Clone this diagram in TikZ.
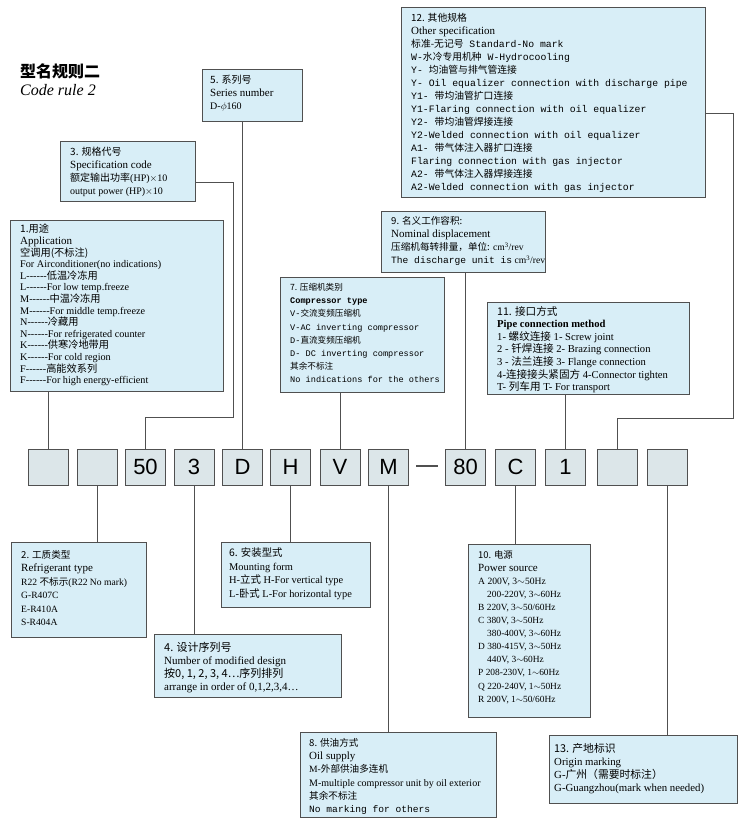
\documentclass[tikz,border=0pt]{standalone}
\usepackage{fontspec}
\setmainfont{Liberation Serif}[Ligatures=TeXOff]
\setsansfont{Liberation Sans}
\setmonofont{Liberation Mono}
\newfontfamily\cjk{Noto Sans CJK SC}
\newcommand\zh[1]{{\cjk #1}}
\usetikzlibrary{positioning}

\definecolor{boxblue}{HTML}{D8EEF7}
\definecolor{codegray}{HTML}{DCE6E9}
\definecolor{edge}{HTML}{505050}

\begin{document}
\begin{tikzpicture}[x=1pt,y=-1pt,
    infobox/.style={draw=edge,fill=boxblue,line width=1pt,anchor=north west,inner sep=0pt},
    txt/.style={anchor=north west,align=left,inner sep=0pt,font=\fontsize{10.2}{11.6}\selectfont},
    code/.style={draw=edge,fill=codegray,line width=1pt,minimum width=40pt,minimum height=36pt,
                 inner sep=0pt,font=\sffamily\fontsize{22}{22}\selectfont},
    link/.style={draw=edge,line width=1pt}]

  \useasboundingbox (0,0) rectangle (750,827);

  % title
  \node[txt,font=\cjk\bfseries\fontsize{16}{16}\selectfont] (title) at (20,64) {型名规则二};
  \node[txt,font=\itshape\fontsize{16}{16}\selectfont] (subtitle) at (20,84) {Code rule 2};

  % upper boxes
  \node[infobox,minimum width=213pt,minimum height=171pt] (b1) at (10,220) {};
  \node[txt] (t1) at ([xshift=10pt,yshift=-4pt]b1.north west)
    {\zh{1.用途}\\ \fontsize{11}{11.6}\selectfont Application\\ \zh{空调用(不标注)}\\
     For Airconditioner(no indications)\\ L------\zh{低温冷冻用}\\ L------For low temp.freeze\\
     M------\zh{中温冷冻用}\\ M------For middle temp.freeze\\ N------\zh{冷藏用}\\
     N------For refrigerated counter\\ K------\zh{供寒冷地带用}\\ K------For cold region\\
     F------\zh{高能效系列}\\ F------For high energy-efficient};

  \node[infobox,minimum width=135pt,minimum height=60pt] (b3) at (60,141) {};
  \node[txt,font=\fontsize{10}{13}\selectfont] (t3) at ([xshift=10pt,yshift=-6pt]b3.north west)
    {\zh{3. 规格代号}\\ \fontsize{11}{13}\selectfont Specification code\\
     \zh{额定输出功率}(HP)$\times$10\\ output power (HP)$\times$10};

  \node[infobox,minimum width=100pt,minimum height=52pt] (b5) at (202,69) {};
  \node[txt,font=\fontsize{10}{13}\selectfont] (t5) at ([xshift=8pt,yshift=-6pt]b5.north west)
    {\zh{5. 系列号}\\ \fontsize{11}{13}\selectfont Series number\\ D-$\phi$160};

  \node[infobox,minimum width=164pt,minimum height=115pt] (b7) at (280,277) {};
  \node[txt,font=\ttfamily\fontsize{8.6}{13.2}\selectfont] (t7) at ([xshift=10pt,yshift=-6pt]b7.north west)
    {\zh{7. 压缩机类别}\\ \textbf{Compressor type}\\ V-\zh{交流变频压缩机}\\ V-AC inverting compressor\\
     D-\zh{直流变频压缩机}\\ D- DC inverting compressor\\ \zh{其余不标注}\\ No indications for the others};

  \node[infobox,minimum width=164pt,minimum height=61pt] (b9) at (381,211) {};
  \node[txt,font=\fontsize{9.6}{13.2}\selectfont] (t9) at ([xshift=10pt,yshift=-5pt]b9.north west)
    {\zh{9. 名义工作容积:}\\ \fontsize{11}{13.2}\selectfont Nominal displacement\\
     \zh{压缩机每转排量，单位:} cm\textsuperscript{3}/rev\\ {\ttfamily The discharge unit is} cm\textsuperscript{3}/rev};

  \node[infobox,minimum width=304pt,minimum height=190pt] (b12) at (401,7) {};
  \node[txt,font=\ttfamily\fontsize{9.8}{13}\selectfont] (t12) at ([xshift=10pt,yshift=-6pt]b12.north west)
    {\zh{12. 其他规格}\\ {\rmfamily\fontsize{11}{13}\selectfont Other specification}\\
     \zh{标准-无记号} Standard-No mark\\ W-\zh{水冷专用机种} W-Hydrocooling\\
     Y- \zh{均油管与排气管连接}\\ Y- Oil equalizer connection with discharge pipe\\
     Y1- \zh{带均油管扩口连接}\\ Y1-Flaring connection with oil equalizer\\
     Y2- \zh{带均油管焊接连接}\\ Y2-Welded connection with oil equalizer\\
     A1- \zh{带气体注入器扩口连接}\\ Flaring connection with gas injector\\
     A2- \zh{带气体注入器焊接连接}\\ A2-Welded connection with gas injector};

  \node[infobox,minimum width=202pt,minimum height=92pt] (b11) at (487,302) {};
  \node[txt,font=\fontsize{10.6}{12.6}\selectfont] (t11) at ([xshift=10pt,yshift=-4pt]b11.north west)
    {\zh{11. 接口方式}\\ \textbf{Pipe connection method}\\ 1- \zh{螺纹连接} 1- Screw joint\\
     2 - \zh{钎焊连接} 2- Brazing connection\\ 3 - \zh{法兰连接} 3- Flange connection\\
     4-\zh{连接接头紧固方} 4-Connector tighten\\ T- \zh{列车用} T- For transport};

  % code row
  \node[code] (k1)  at (48,467)    {};
  \node[code] (k2)  at (97,467)    {};
  \node[code] (k3)  at (145.5,467) {50};
  \node[code] (k4)  at (194,467)   {3};
  \node[code] (k5)  at (242.5,467) {D};
  \node[code] (k6)  at (290.5,467) {H};
  \node[code] (k7)  at (340,467)   {V};
  \node[code] (k8)  at (388.5,467) {M};
  \node[inner sep=0pt] (dash) at (427,466) {\color{edge}\rule{22pt}{1.3pt}};
  \node[code] (k9)  at (465.5,467) {80};
  \node[code] (k10) at (515.5,467) {C};
  \node[code] (k11) at (565.5,467) {1};
  \node[code] (k12) at (617.5,467) {};
  \node[code] (k13) at (667.5,467) {};

  % lower boxes
  \node[infobox,minimum width=135pt,minimum height=95pt] (b2) at (11,542) {};
  \node[txt,font=\fontsize{9.6}{13.5}\selectfont] (t2) at ([xshift=10pt,yshift=-8pt]b2.north west)
    {\zh{2. 工质类型}\\ \fontsize{11}{13.5}\selectfont Refrigerant type\\ R22 \zh{不标示}(R22 No mark)\\
     G-R407C\\ E-R410A\\ S-R404A};

  \node[infobox,minimum width=187pt,minimum height=63pt] (b4) at (154,634) {};
  \node[txt,font=\fontsize{11}{13}\selectfont] (t4) at ([xshift=10pt,yshift=-8pt]b4.north west)
    {\zh{4. 设计序列号}\\ Number of modified design\\ \zh{按0, 1, 2, 3, 4…序列排列}\\ arrange in order of 0,1,2,3,4…};

  \node[infobox,minimum width=149pt,minimum height=65pt] (b6) at (221,542) {};
  \node[txt,font=\fontsize{10.4}{13.5}\selectfont] (t6) at ([xshift=8pt,yshift=-6pt]b6.north west)
    {\zh{6. 安装型式}\\ Mounting form\\ H-\zh{立式} H-For vertical type\\ L-\zh{卧式} L-For horizontal type};

  \node[infobox,minimum width=196pt,minimum height=85pt] (b8) at (300,732) {};
  \node[txt,font=\fontsize{9.6}{13.3}\selectfont] (t8) at ([xshift=9pt,yshift=-6pt]b8.north west)
    {\zh{8. 供油方式}\\ \fontsize{11}{13.3}\selectfont Oil supply\\ M-\zh{外部供油多连机}\\
     {\fontsize{10}{13.3}\selectfont M-multiple compressor unit by oil exterior}\\ \zh{其余不标注}\\ {\ttfamily No marking for others}};

  \node[infobox,minimum width=122pt,minimum height=173pt] (b10) at (468,544) {};
  \node[txt,font=\fontsize{9.4}{13.1}\selectfont] (t10) at ([xshift=10pt,yshift=-6pt]b10.north west)
    {\zh{10. 电源}\\ \fontsize{11}{13.1}\selectfont Power source\\ \fontsize{9.6}{13.1}\selectfont A 200V, 3$\sim$50Hz\\
     \hspace{9pt}200-220V, 3$\sim$60Hz\\ B 220V, 3$\sim$50/60Hz\\ C 380V, 3$\sim$50Hz\\
     \hspace{9pt}380-400V, 3$\sim$60Hz\\ D 380-415V, 3$\sim$50Hz\\ \hspace{9pt}440V, 3$\sim$60Hz\\
     P 208-230V, 1$\sim$60Hz\\ Q 220-240V, 1$\sim$50Hz\\ R 200V, 1$\sim$50/60Hz};

  \node[infobox,minimum width=188pt,minimum height=68pt] (b13) at (549,735) {};
  \node[txt,font=\fontsize{10.8}{13.2}\selectfont] (t13) at ([xshift=5pt,yshift=-8pt]b13.north west)
    {\zh{13. 产地标识}\\ Origin marking\\ G-\zh{广州（需要时标注）}\\ G-Guangzhou(mark when needed)};

  % connectors
  \draw[link] (k1.north |- b1.south) -- (k1.north);
  \draw[link] ([yshift=-11pt]b3.east) -| (233,417) -| (k3.north);
  \draw[link] (k5.north |- b5.south) -- (k5.north);
  \draw[link] (k7.north |- b7.south) -- (k7.north);
  \draw[link] (k9.north |- b9.south) -- (k9.north);
  \draw[link] (k11.north |- b11.south) -- (k11.north);
  \draw[link] ([yshift=-11pt]b12.east) -| (733,418) -| (k12.north);
  \draw[link] (k2.south) -- (k2.south |- b2.north);
  \draw[link] (k4.south) -- (k4.south |- b4.north);
  \draw[link] (k6.south) -- (k6.south |- b6.north);
  \draw[link] (k8.south) -- (k8.south |- b8.north);
  \draw[link] (k10.south) -- (k10.south |- b10.north);
  \draw[link] (k13.south) -- (k13.south |- b13.north);

\end{tikzpicture}
\end{document}
